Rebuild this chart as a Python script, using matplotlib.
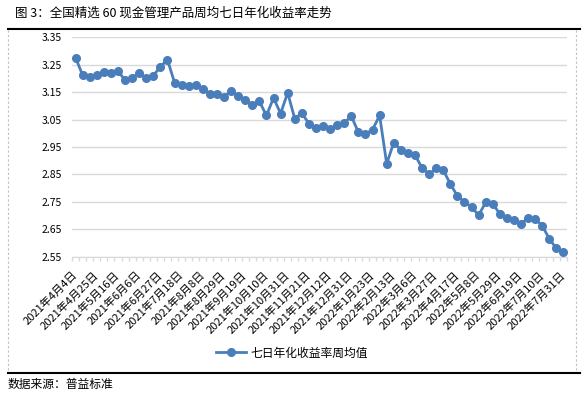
import numpy as np
import matplotlib
matplotlib.use("Agg")
import matplotlib.pyplot as plt
from matplotlib.lines import Line2D

plt.rcParams['font.family'] = ['Noto Sans CJK SC', 'DejaVu Sans']

# weekly average 7-day annualised yield (%), 2021-04-04 .. 2022-07-31
yield_values = [
    3.276, 3.212, 3.205, 3.212, 3.222, 3.220, 3.228, 3.193, 3.201, 3.221,
    3.200, 3.210, 3.243, 3.268, 3.185, 3.176, 3.171, 3.176, 3.162, 3.143,
    3.145, 3.132, 3.154, 3.135, 3.122, 3.104, 3.116, 3.065, 3.129, 3.072,
    3.148, 3.053, 3.074, 3.035, 3.020, 3.027, 3.016, 3.030, 3.038, 3.062,
    3.004, 2.998, 3.013, 3.065, 2.889, 2.966, 2.940, 2.929, 2.921, 2.874,
    2.850, 2.872, 2.865, 2.816, 2.771, 2.750, 2.732, 2.701, 2.748, 2.743,
    2.706, 2.691, 2.682, 2.671, 2.690, 2.688, 2.663, 2.615, 2.580, 2.568,
]

# every third week is labelled
tick_labels = [
    "2021年4月4日", "2021年4月25日", "2021年5月16日", "2021年6月6日",
    "2021年6月27日", "2021年7月18日", "2021年8月8日", "2021年8月29日",
    "2021年9月19日", "2021年10月10日", "2021年10月31日", "2021年11月21日",
    "2021年12月12日", "2021年12月31日", "2022年1月23日", "2022年2月13日",
    "2022年3月6日", "2022年3月27日", "2022年4月17日", "2022年5月8日",
    "2022年5月29日", "2022年6月19日", "2022年7月10日", "2022年7月31日",
]
y_ticks = [2.55, 2.65, 2.75, 2.85, 2.95, 3.05, 3.15, 3.25, 3.35]

title = "图 3：全国精选 60 现金管理产品周均七日年化收益率走势"
series_name = "七日年化收益率周均值"
source = "数据来源：普益标准"

W, H = 587, 393
LINE_COLOR = "#4a7ebb"
GRID_COLOR = "#d9d9d9"

fig = plt.figure(figsize=(W / 100, H / 100), dpi=100)
ax = fig.add_axes([72 / W, 1 - 256.7 / H, (567 - 72) / W, (256.7 - 37.3) / H])

x = np.arange(len(yield_values))
ax.plot(x, yield_values, color=LINE_COLOR, linewidth=2.0, marker="o",
        markersize=5.5, label=series_name, zorder=3)

ax.set_xlim(-0.5, len(yield_values) - 0.5)
ax.set_ylim(2.55, 3.35)

ax.set_yticks(y_ticks)
ax.set_yticklabels([f"{v:.2f}" for v in y_ticks], fontsize=7.5)
ax.tick_params(axis="y", length=0, pad=7)
ax.grid(axis="y", color=GRID_COLOR, linewidth=1.0)
ax.set_axisbelow(True)

ax.set_xticks(x[::3])
ax.set_xticklabels(tick_labels, fontsize=8, rotation=45, ha="right",
                   va="center", rotation_mode="anchor")
ax.tick_params(axis="x", which="major", length=0, pad=12)
ax.set_xticks(np.arange(-0.5, len(yield_values), 1), minor=True)
ax.tick_params(axis="x", which="minor", length=3, color=GRID_COLOR, width=1)

for side in ["top", "right", "left"]:
    ax.spines[side].set_visible(False)
ax.spines["bottom"].set_color(GRID_COLOR)

# frame decorations
fig.text(15 / W, 1 - 13 / H, title, fontsize=9, ha="left", va="center",
         fontweight="medium")
fig.add_artist(Line2D([8 / W, 580 / W], [1 - 29 / H, 1 - 29 / H],
                      color="black", linewidth=1.5))
fig.add_artist(Line2D([8 / W, 580 / W], [1 - 373 / H, 1 - 373 / H],
                      color="black", linewidth=1.5))
for xv in [8, 576]:
    fig.add_artist(Line2D([xv / W, xv / W], [1 - 30 / H, 1 - 372 / H],
                          color="#bfbfbf", linewidth=0.8, linestyle=(0, (2, 2))))

fig.legend(loc="center", bbox_to_anchor=(292 / W, 1 - 353 / H), frameon=False,
           fontsize=8.5, handlelength=2.5, handletextpad=0.4)

fig.text(8 / W, 1 - 384 / H, source, fontsize=8.5, ha="left", va="center",
         fontweight="medium")

fig.savefig("out.png", dpi=100)
